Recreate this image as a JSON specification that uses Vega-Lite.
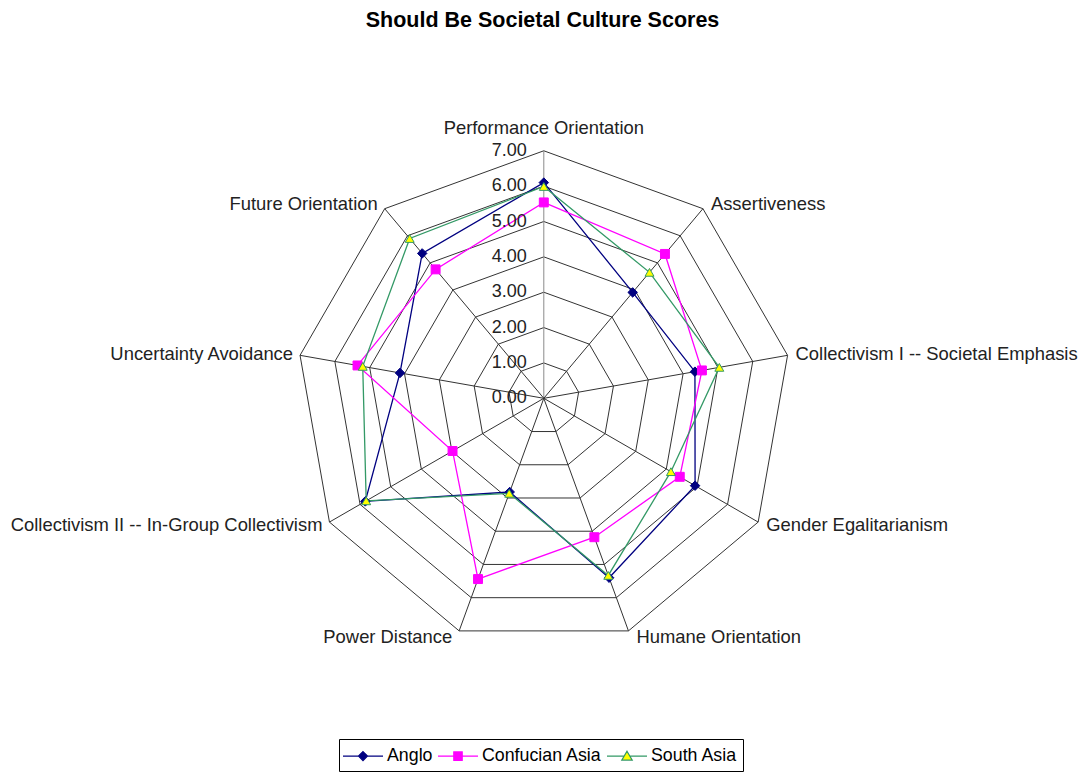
{
  "$schema": "https://vega.github.io/schema/vega-lite/v6.json",
  "width": 1085,
  "height": 732,
  "autosize": {"type": "none"},
  "padding": {"top": 40, "left": 0, "right": 0, "bottom": 0},
  "background": "white",
  "config": {"view": {"stroke": null}, "font": "Liberation Sans"},
  "title": {"text": "Should Be Societal Culture Scores", "font": "Liberation Sans", "fontSize": 21.5, "fontWeight": "bold", "color": "black", "anchor": "middle", "offset": 9},
  "datasets": {
    "axes": [
      {"k": 0, "name": "Performance Orientation"},
      {"k": 1, "name": "Assertiveness"},
      {"k": 2, "name": "Collectivism I -- Societal Emphasis"},
      {"k": 3, "name": "Gender Egalitarianism"},
      {"k": 4, "name": "Humane Orientation"},
      {"k": 5, "name": "Power Distance"},
      {"k": 6, "name": "Collectivism II -- In-Group Collectivism"},
      {"k": 7, "name": "Uncertainty Avoidance"},
      {"k": 8, "name": "Future Orientation"}
    ],
    "rings": [
      {"level": 1, "k": [0, 1, 2, 3, 4, 5, 6, 7, 8]},
      {"level": 2, "k": [0, 1, 2, 3, 4, 5, 6, 7, 8]},
      {"level": 3, "k": [0, 1, 2, 3, 4, 5, 6, 7, 8]},
      {"level": 4, "k": [0, 1, 2, 3, 4, 5, 6, 7, 8]},
      {"level": 5, "k": [0, 1, 2, 3, 4, 5, 6, 7, 8]},
      {"level": 6, "k": [0, 1, 2, 3, 4, 5, 6, 7, 8]},
      {"level": 7, "k": [0, 1, 2, 3, 4, 5, 6, 7, 8]}
    ],
    "ticks": [
      {"level": 0}, {"level": 1}, {"level": 2}, {"level": 3},
      {"level": 4}, {"level": 5}, {"level": 6}, {"level": 7}
    ],
    "scores": [
      {"region": "Anglo", "k": 0, "value": 6.10},
      {"region": "Anglo", "k": 1, "value": 3.91},
      {"region": "Anglo", "k": 2, "value": 4.34},
      {"region": "Anglo", "k": 3, "value": 4.94},
      {"region": "Anglo", "k": 4, "value": 5.40},
      {"region": "Anglo", "k": 5, "value": 2.82},
      {"region": "Anglo", "k": 6, "value": 5.83},
      {"region": "Anglo", "k": 7, "value": 4.13},
      {"region": "Anglo", "k": 8, "value": 5.35},
      {"region": "Confucian Asia", "k": 0, "value": 5.54},
      {"region": "Confucian Asia", "k": 1, "value": 5.33},
      {"region": "Confucian Asia", "k": 2, "value": 4.54},
      {"region": "Confucian Asia", "k": 3, "value": 4.44},
      {"region": "Confucian Asia", "k": 4, "value": 4.18},
      {"region": "Confucian Asia", "k": 5, "value": 5.44},
      {"region": "Confucian Asia", "k": 6, "value": 2.98},
      {"region": "Confucian Asia", "k": 7, "value": 5.35},
      {"region": "Confucian Asia", "k": 8, "value": 4.76},
      {"region": "South Asia", "k": 0, "value": 5.99},
      {"region": "South Asia", "k": 1, "value": 4.65},
      {"region": "South Asia", "k": 2, "value": 5.04},
      {"region": "South Asia", "k": 3, "value": 4.15},
      {"region": "South Asia", "k": 4, "value": 5.33},
      {"region": "South Asia", "k": 5, "value": 2.86},
      {"region": "South Asia", "k": 6, "value": 5.80},
      {"region": "South Asia", "k": 7, "value": 5.20},
      {"region": "South Asia", "k": 8, "value": 5.90}
    ]
  },
  "encoding": {
    "x": {"field": "x", "type": "quantitative", "scale": {"domain": [-15.379, 15.305], "nice": false, "zero": false}, "axis": null},
    "y": {"field": "y", "type": "quantitative", "scale": {"domain": [-10.568, 10.133], "nice": false, "zero": false}, "axis": null}
  },
  "layer": [
    {
      "data": {"name": "rings"},
      "transform": [
        {"flatten": ["k"]},
        {"calculate": "datum.level * sin(datum.k * 2 * PI / 9)", "as": "x"},
        {"calculate": "datum.level * cos(datum.k * 2 * PI / 9)", "as": "y"}
      ],
      "mark": {"type": "line", "interpolate": "linear-closed", "color": "#333333", "strokeWidth": 1},
      "encoding": {"detail": {"field": "level", "type": "nominal"}, "order": {"field": "k", "type": "quantitative"}}
    },
    {
      "data": {"name": "axes"},
      "transform": [
        {"calculate": "7 * sin(datum.k * 2 * PI / 9)", "as": "x"},
        {"calculate": "7 * cos(datum.k * 2 * PI / 9)", "as": "y"}
      ],
      "mark": {"type": "rule", "strokeWidth": 1},
      "encoding": {
        "x2": {"datum": 0},
        "y2": {"datum": 0},
        "color": {"condition": {"test": "datum.k === 0", "value": "#8a8a8a"}, "value": "#333333"}
      }
    },
    {
      "data": {"name": "scores"},
      "transform": [
        {"calculate": "datum.value * sin(datum.k * 2 * PI / 9)", "as": "x"},
        {"calculate": "datum.value * cos(datum.k * 2 * PI / 9)", "as": "y"}
      ],
      "mark": {"type": "line", "interpolate": "linear-closed", "strokeWidth": 1.3},
      "encoding": {
        "stroke": {
          "field": "region", "type": "nominal",
          "scale": {"domain": ["Anglo", "Confucian Asia", "South Asia"], "range": ["#000080", "#FF00FF", "#339966"]},
          "legend": {
            "title": null,
            "orient": "none",
            "legendX": 339,
            "legendY": 699,
            "direction": "horizontal",
            "labelFont": "Liberation Sans",
            "labelFontSize": 17.8,
            "labelColor": "black",
            "labelOffset": 13,
            "symbolOffset": 7,
            "columnPadding": 2,
            "padding": 6,
            "strokeColor": "black",
            "fillColor": "white",
            "symbolSize": 400,
            "symbolStrokeWidth": 1.2,
            "encode": {
              "symbols": {
                "update": {
                  "shape": {"signal": "datum.value === 'Anglo' ? 'M-2,0H-0.45M0.45,0H2M0,-0.45L0.45,0L0,0.45L-0.45,0Z' : datum.value === 'Confucian Asia' ? 'M-2,0H-0.42M0.42,0H2M-0.42,-0.42H0.42V0.42H-0.42Z' : 'M-2,0H-0.28M0.28,0H2M0,-0.48L0.52,0.4H-0.52Z'"},
                  "fill": {"signal": "datum.value === 'Anglo' ? '#000080' : datum.value === 'Confucian Asia' ? '#FF00FF' : '#FFFF00'"},
                  "stroke": {"signal": "datum.value === 'Anglo' ? '#000080' : datum.value === 'Confucian Asia' ? '#FF00FF' : '#339966'"},
                  "strokeWidth": {"value": 1.2},
                  "size": {"value": 400},
                  "opacity": {"value": 1}
                }
              }
            }
          }
        },
        "order": {"field": "k", "type": "quantitative"}
      }
    },
    {
      "data": {"name": "scores"},
      "transform": [
        {"filter": "datum.region === 'Anglo'"},
        {"calculate": "datum.value * sin(datum.k * 2 * PI / 9)", "as": "x"},
        {"calculate": "datum.value * cos(datum.k * 2 * PI / 9)", "as": "y"}
      ],
      "mark": {"type": "point", "shape": "diamond", "filled": true, "size": 90, "fill": "#000080", "stroke": "#000080", "strokeWidth": 1, "opacity": 1}
    },
    {
      "data": {"name": "scores"},
      "transform": [
        {"filter": "datum.region === 'Confucian Asia'"},
        {"calculate": "datum.value * sin(datum.k * 2 * PI / 9)", "as": "x"},
        {"calculate": "datum.value * cos(datum.k * 2 * PI / 9)", "as": "y"}
      ],
      "mark": {"type": "point", "shape": "square", "filled": true, "size": 80, "fill": "#FF00FF", "stroke": "#FF00FF", "strokeWidth": 1, "opacity": 1}
    },
    {
      "data": {"name": "scores"},
      "transform": [
        {"filter": "datum.region === 'South Asia'"},
        {"calculate": "datum.value * sin(datum.k * 2 * PI / 9)", "as": "x"},
        {"calculate": "datum.value * cos(datum.k * 2 * PI / 9)", "as": "y"}
      ],
      "mark": {"type": "point", "shape": "triangle-up", "filled": true, "size": 80, "fill": "#FFFF00", "stroke": "#339966", "strokeWidth": 1, "opacity": 1}
    },
    {
      "data": {"name": "ticks"},
      "transform": [
        {"calculate": "0", "as": "x"},
        {"calculate": "datum.level", "as": "y"}
      ],
      "mark": {"type": "text", "align": "right", "baseline": "middle", "dx": -17, "font": "Liberation Sans", "fontSize": 18, "color": "#222222"},
      "encoding": {"text": {"field": "level", "type": "quantitative", "format": ".2f"}}
    },
    {
      "data": {"name": "axes"},
      "transform": [
        {"filter": "datum.k === 0"},
        {"calculate": "7 * sin(datum.k * 2 * PI / 9)", "as": "x"},
        {"calculate": "7 * cos(datum.k * 2 * PI / 9)", "as": "y"}
      ],
      "mark": {"type": "text", "align": "center", "baseline": "alphabetic", "dy": -17, "font": "Liberation Sans", "fontSize": 18.4, "color": "#222222"},
      "encoding": {"text": {"field": "name", "type": "nominal"}}
    },
    {
      "data": {"name": "axes"},
      "transform": [
        {"filter": "datum.k >= 1 && datum.k <= 4"},
        {"calculate": "7 * sin(datum.k * 2 * PI / 9)", "as": "x"},
        {"calculate": "7.18 * cos(datum.k * 2 * PI / 9)", "as": "y"}
      ],
      "mark": {"type": "text", "align": "left", "baseline": "middle", "dx": 8, "font": "Liberation Sans", "fontSize": 18.4, "color": "#222222"},
      "encoding": {"text": {"field": "name", "type": "nominal"}}
    },
    {
      "data": {"name": "axes"},
      "transform": [
        {"filter": "datum.k >= 5"},
        {"calculate": "7 * sin(datum.k * 2 * PI / 9)", "as": "x"},
        {"calculate": "7.18 * cos(datum.k * 2 * PI / 9)", "as": "y"}
      ],
      "mark": {"type": "text", "align": "right", "baseline": "middle", "dx": -7, "font": "Liberation Sans", "fontSize": 18.4, "color": "#222222"},
      "encoding": {"text": {"field": "name", "type": "nominal"}}
    }
  ]
}
